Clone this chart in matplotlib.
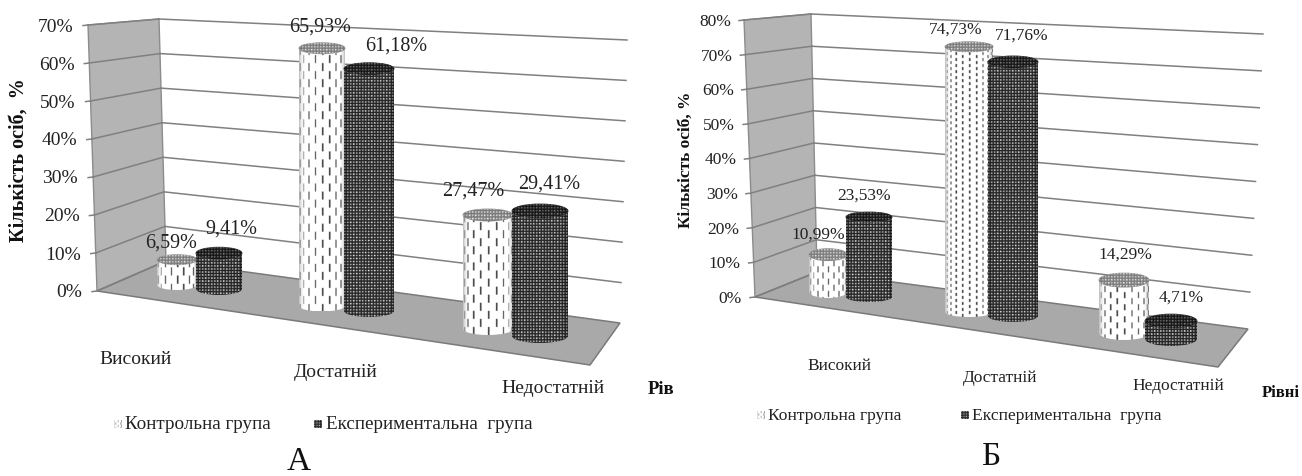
import matplotlib.pyplot as plt
import numpy as np
from matplotlib.patches import Polygon, Ellipse, PathPatch
from matplotlib.path import Path

plt.rcParams['font.family'] = ['Liberation Serif', 'DejaVu Serif']

# data
categories = ['Високий', 'Достатній', 'Недостатній']
series_names = ['Контрольна група', 'Експериментальна  група']
control_a = [6.59, 65.93, 27.47]
experiment_a = [9.41, 61.18, 29.41]
control_b = [10.99, 74.73, 14.29]
experiment_b = [23.53, 71.76, 4.71]
ticks_a = [0, 10, 20, 30, 40, 50, 60, 70]
ticks_b = [0, 10, 20, 30, 40, 50, 60, 70, 80]

# layout of the two panels, in figure pixels
panel_a = dict(
    front_bottom=(97, 292), front_top=(88, 26),
    back_bottom=(166, 262), back_top=(159, 20),
    right_bottom=(620, 324), right_top=(627, 41),
    floor_front=(590, 366),
    cx=[[177, 219], [322, 369], [488, 540]],
    rx=[[20, 23], [23, 25], [25, 28]],
    ry=[[5, 6], [5.5, 6], [6, 7]],
    base=[[286, 290], [307, 312], [330, 337]],
    scale=[[3.85, 3.8], [3.91, 3.96], [4.15, 4.25]],
    label_pos=[[(171, 243), (231, 229)], [(320, 27), (396, 46)], [(473, 191), (549, 184)]],
    cat_pos=[(136, 360), (336, 373), (553, 389)],
    tick_gap=15, tick_size=14, label_size=14.5, cat_size=14,
    ylabel=('Кількість осіб,  %', 19, 160, 14.5),
    axis_name=('Рів', 648, 390), axis_size=13.5,
    legend_y=425, legend_size=13.8,
    legend_pos=[(118, 125), (318, 326)],
    title=('А', 299, 462),
    dash=[(8, 16), (8, 16), (8, 16)], col_step=0.32,
)
panel_b = dict(
    front_bottom=(755, 298), front_top=(744, 21),
    back_bottom=(817, 273), back_top=(811, 15),
    right_bottom=(1248, 330), right_top=(1263, 35),
    floor_front=(1218, 368),
    cx=[[828, 869], [969, 1013], [1124, 1171]],
    rx=[[19, 23], [24, 25], [25, 26]],
    ry=[[6, 5], [5, 6], [7, 7]],
    base=[[293, 298], [313, 317], [334, 340]],
    scale=[[3.4, 3.4], [3.55, 3.54], [3.7, 3.8]],
    label_pos=[[(818, 235), (864, 196)], [(956, 30), (1022, 36)], [(1125, 255), (1181, 298)]],
    cat_pos=[(839, 366), (1000, 378), (1178, 386)],
    tick_gap=13, tick_size=12.5, label_size=12.5, cat_size=12.5,
    ylabel=('Кількість осіб, %', 686, 160, 12.5),
    axis_name=('Рівні', 1262, 393), axis_size=12,
    legend_y=416, legend_size=12.6,
    legend_pos=[(761, 768), (965, 972)],
    title=('Б', 991, 457),
    dash=[(6, 12), (3, 6), (6, 12)], col_step=0.30,
)


def lerp(p, q, t):
    return (p[0] + (q[0] - p[0]) * t, p[1] + (q[1] - p[1]) * t)


def light_texture(rx, h, dash, col_step):
    # white cylinder with short black dashes, grey towards the sides
    w = int(2 * rx * 2)
    hh = max(int(h * 2), 2)
    theta = np.arcsin(np.linspace(-0.999, 0.999, w))
    ys = np.arange(hh) / 2.0
    col = np.floor(theta / col_step).astype(int)
    frac = theta / col_step - col
    img = np.ones((hh, w))
    dash_len, pitch = dash
    for j in range(w):
        shift = (col[j] % 2) * pitch / 2
        on = ((ys + shift) % pitch) < dash_len
        if frac[j] < 0.2:
            img[on, j] = 0.2
    shade = 0.7 + 0.3 * np.clip(np.cos(theta) * 1.7, 0, 1)
    return img * shade[None, :]


def dark_texture(rx, h):
    # dense black mesh with light dots
    w = int(2 * rx * 2)
    hh = max(int(h * 2), 2)
    X, Y = np.meshgrid(np.arange(w) / 2.0, np.arange(hh) / 2.0)
    dots = ((X % 3.0) < 1.5) & ((Y % 3.0) < 1.5)
    img = np.where(dots, 0.72, 0.14)
    patches = np.sin(X * 0.85) * np.sin(Y * 0.85) > 0.25
    img = np.where(dots & patches, 1.0, img)
    theta = np.arcsin(np.linspace(-0.999, 0.999, w))
    shade = 0.6 + 0.4 * np.clip(np.cos(theta) * 1.6, 0, 1)
    return img * shade[None, :]


def cylinder(ax, cx, base, rx, ry, height, kind, dash, col_step, z):
    top = base - height
    k = 0.5523
    verts = [(cx - rx, top), (cx - rx, base),
             (cx - rx, base + k * ry), (cx - k * rx, base + ry), (cx, base + ry),
             (cx + k * rx, base + ry), (cx + rx, base + k * ry), (cx + rx, base),
             (cx + rx, top), (cx - rx, top)]
    codes = [Path.MOVETO, Path.LINETO,
             Path.CURVE4, Path.CURVE4, Path.CURVE4,
             Path.CURVE4, Path.CURVE4, Path.CURVE4,
             Path.LINETO, Path.CLOSEPOLY]
    body = PathPatch(Path(verts, codes), fc='none', ec='none', zorder=z)
    ax.add_patch(body)
    h = base + ry - top
    if kind == 0:
        tex = light_texture(rx, h, dash, col_step)
    else:
        tex = dark_texture(rx, h)
    im = ax.imshow(tex, extent=(cx - rx, cx + rx, base + ry, top), cmap='gray', vmin=0, vmax=1,
                   aspect='auto', interpolation='bilinear', zorder=z)
    im.set_clip_path(body)
    # top ellipse
    cap = Ellipse((cx, top), 2 * rx, 2 * ry, fc='#b0b0b0' if kind == 0 else '#2e2e2e',
                  ec='#a0a0a0' if kind == 0 else '#444444', lw=0.7, zorder=z + 0.1)
    ax.add_patch(cap)
    cap_tex = dark_texture(rx, 2 * ry)
    if kind == 0:
        cap_tex = 0.4 + 0.6 * cap_tex
    else:
        cap_tex = 0.6 * cap_tex
    im2 = ax.imshow(cap_tex, extent=(cx - rx, cx + rx, top + ry, top - ry), cmap='gray', vmin=0, vmax=1,
                    aspect='auto', interpolation='bilinear', zorder=z + 0.2)
    im2.set_clip_path(cap)


def draw_panel(ax, p, ticks, control, experiment):
    top_val = ticks[-1]
    # walls and floor
    ax.add_patch(Polygon([p['front_bottom'], p['front_top'], p['back_top'], p['back_bottom']],
                         fc='#b4b4b4', ec='#8c8c8c', lw=1, zorder=1))
    ax.add_patch(Polygon([p['front_bottom'], p['back_bottom'], p['right_bottom'], p['floor_front']],
                         fc='#a9a9a9', ec='#7a7a7a', lw=1.1, zorder=2))
    for v in ticks:
        t = v / top_val
        f = lerp(p['front_bottom'], p['front_top'], t)
        b = lerp(p['back_bottom'], p['back_top'], t)
        r = lerp(p['right_bottom'], p['right_top'], t)
        ax.plot([f[0] - 5, f[0]], [f[1] + 0.6, f[1]], color='#808080', lw=1.1, zorder=3)
        ax.plot([f[0], b[0]], [f[1], b[1]], color='#808080', lw=1.1, zorder=3)
        if v > 0:
            ax.plot([b[0], r[0]], [b[1], r[1]], color='#808080', lw=1.1, zorder=1.5)
        ax.text(f[0] - p['tick_gap'], f[1] + 1, f'{v}%', ha='right', va='center', fontsize=p['tick_size'],
                color='#222222', zorder=5)

    # cylinders, left to right, the second series over the first
    for i in range(len(categories)):
        for j, vals in enumerate([control, experiment]):
            h = vals[i] * p['scale'][i][j]
            cylinder(ax, p['cx'][i][j], p['base'][i][j], p['rx'][i][j], p['ry'][i][j], h, j,
                     p['dash'][i], p['col_step'], 6 + i + j * 0.5)
            lx, ly = p['label_pos'][i][j]
            ax.text(lx, ly, f'{vals[i]:.2f}%'.replace('.', ','), ha='center', va='center',
                    fontsize=p['label_size'], color='#222222', zorder=12)
        cx, cy = p['cat_pos'][i]
        ax.text(cx, cy, categories[i], ha='center', va='center', fontsize=p['cat_size'], color='#222222')

    s, x, y, size = p['ylabel']
    ax.text(x, y, s, rotation=90, ha='center', va='center', fontsize=size, fontweight='bold', color='#111111')
    s, x, y = p['axis_name']
    ax.text(x, y, s, ha='left', va='center', fontsize=p['axis_size'], fontweight='bold', color='#111111')

    # legend
    for j, name in enumerate(series_names):
        mx, tx = p['legend_pos'][j]
        ly = p['legend_y']
        if j == 0:
            tex = light_texture(5, 10, (3, 6), 0.7)
        else:
            tex = dark_texture(5, 10)
        ax.imshow(tex, extent=(mx - 4, mx + 4, ly + 4, ly - 4), cmap='gray', vmin=0, vmax=1,
                  aspect='auto', interpolation='bilinear', zorder=4)
        ax.text(tx, ly, name, ha='left', va='center', fontsize=p['legend_size'], color='#222222')

    s, x, y = p['title']
    ax.text(x, y, s, ha='center', va='center', fontsize=24, color='#111111')


fig = plt.figure(figsize=(13.02, 4.77), dpi=100)
ax = fig.add_axes([0, 0, 1, 1])

draw_panel(ax, panel_a, ticks_a, control_a, experiment_a)
draw_panel(ax, panel_b, ticks_b, control_b, experiment_b)

ax.set_xlim(0, 1302)
ax.set_ylim(477, 0)
ax.axis('off')
fig.savefig('out.png', dpi=100)
